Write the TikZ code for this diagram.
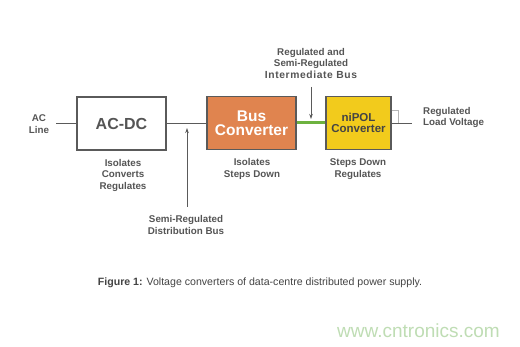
\documentclass[tikz,border=0pt]{standalone}
\usepackage{fontspec}
\setmainfont{Liberation Sans}
\newfontfamily\widebold[LetterSpace=6]{Liberation Sans}
\usetikzlibrary{arrows.meta}
\definecolor{txt}{HTML}{555555}
\definecolor{edge}{HTML}{5A5A5A}
\definecolor{busorange}{HTML}{E0844F}
\definecolor{polyellow}{HTML}{F2CB1C}
\definecolor{busgreen}{HTML}{6DB23F}
\definecolor{wm}{HTML}{BFDDB4}
\tikzset{
  box/.style={draw=edge, line width=1.2pt, minimum width=89pt, minimum height=53pt, inner sep=0pt, font=\bfseries},
  lbl/.style={text=txt, font=\fontsize{9.8}{11.5}\selectfont\bfseries, align=center, inner sep=0pt},
  wire/.style={draw=edge, line width=0.8pt},
  arr/.style={draw=edge, line width=0.7pt, -{Stealth[length=5pt,width=3.5pt]}}
}
\begin{document}
\begin{tikzpicture}[x=1pt,y=-1pt]
\useasboundingbox[fill=white] (0,0) rectangle (520,347);
% boxes
\node[box, fill=white, text=txt, font=\fontsize{16}{16}\selectfont\bfseries] (acdc) at (121.5,123.5) {AC-DC};
\node[box, fill=busorange, text=white, minimum width=89pt, font=\fontsize{15.5}{14.5}\selectfont\bfseries, align=center] (bus) at (251.5,123) {Bus\\Converter};
\node[box, fill=polyellow, text=txt!80!black, minimum width=65pt, font=\fontsize{11.5}{11.5}\selectfont\bfseries, align=center] (pol) at (358.5,123) {niPOL\\Converter};
% labels
\node[lbl] (acline) at (39,124) {AC\\Line};
\node[lbl] (l1) at (123,175) {Isolates\\Converts\\Regulates};
\node[lbl] (l2) at (252,169) {Isolates\\Steps Down};
\node[lbl] (l3) at (358,169) {Steps Down\\Regulates};
\node[lbl] (semi) at (186,225) {Semi-Regulated\\Distribution Bus};
\node[lbl] (inter) at (311,63.5) {Regulated and\\Semi-Regulated\\{\widebold\bfseries\fontsize{10.3}{11.5}\selectfont Intermediate Bus}};
\node[lbl, anchor=west, align=left] (load) at (423,117.5) {Regulated\\Load Voltage};
% wires
\coordinate (aclend) at (56,123);
\coordinate (outend) at (412,123);
\draw[wire] (aclend) -- (acdc.west |- aclend);
\draw[wire] (acdc.east |- aclend) -- (bus.west |- aclend);
\draw[busgreen, line width=2.8pt] (bus.east |- 0,122.5) -- (pol.west |- 0,122.5);
\draw[wire] (pol.east |- outend) -- (outend);
\draw[edge!45, line width=0.6pt] (pol.east |- 0,110) -- (398,110) -- (398,123);
% arrows
\coordinate (a1s) at (187,207);
\coordinate (a1e) at (187,128);
\draw[arr] (a1s) -- (a1e);
\coordinate (a2s) at (311,87);
\coordinate (a2e) at (311,119);
\draw[arr] (a2s) -- (a2e);
% caption
\node[text=txt!80!black, font=\fontsize{10.6}{12}\selectfont, inner sep=0pt] (cap) at (260,283) {\textbf{Figure 1:} Voltage converters of data-centre distributed power supply.};
% watermark
\node[text=wm, font=\fontsize{19}{19}\selectfont, inner sep=0pt] (wmk) at (418.5,331) {www.cntronics.com};
\end{tikzpicture}
\end{document}
